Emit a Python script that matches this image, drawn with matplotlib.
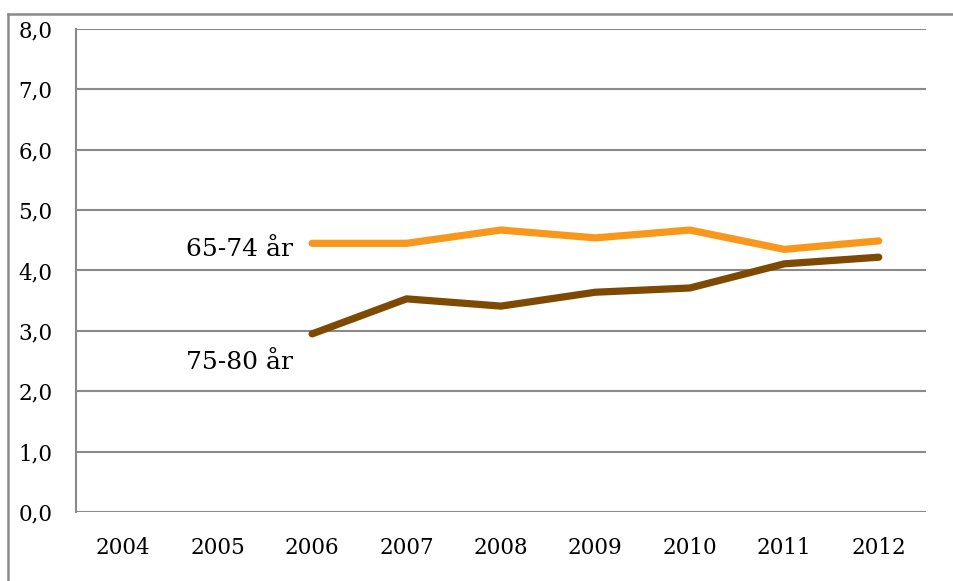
import matplotlib
matplotlib.use("Agg")
import matplotlib.pyplot as plt
from matplotlib.lines import Line2D

years = ["2004", "2005", "2006", "2007", "2008", "2009", "2010", "2011", "2012"]
# series start in 2006
age_65_74 = [None, None, 4.45, 4.45, 4.67, 4.54, 4.67, 4.35, 4.49]
age_75_80 = [None, None, 2.95, 3.53, 3.41, 3.64, 3.71, 4.11, 4.22]
yticks = [0, 1, 2, 3, 4, 5, 6, 7, 8]

grid_col = "#8a8a8a"
serif = "DejaVu Serif"

fig = plt.figure(figsize=(9.54, 5.81), dpi=100)
ax = fig.add_axes([0.0797, 0.1188, 0.8909, 0.8313])

x = list(range(len(years)))
xs = [i for i, v in enumerate(age_65_74) if v is not None]
ax.plot(xs, [age_65_74[i] for i in xs], color="#F7981D", lw=5.2,
        solid_capstyle="round", solid_joinstyle="round", zorder=3)
xs = [i for i, v in enumerate(age_75_80) if v is not None]
ax.plot(xs, [age_75_80[i] for i in xs], color="#7E4A03", lw=5.2,
        solid_capstyle="round", solid_joinstyle="round", zorder=3)

ax.set_xlim(-0.5, len(years) - 0.5)
ax.set_ylim(0, 8)
ax.set_yticks(yticks)
ax.set_yticklabels([f"{v},0" for v in yticks], fontfamily=serif, fontsize=15.5)
ax.set_xticks(x)
ax.set_xticklabels(years, fontfamily=serif, fontsize=15.5)
ax.tick_params(axis="both", length=0)
ax.tick_params(axis="x", pad=18)
ax.tick_params(axis="y", pad=17)

for v in yticks:
    ax.axhline(v, color=grid_col, lw=1.5, zorder=1)
for s in ["top", "right", "bottom"]:
    ax.spines[s].set_visible(False)
ax.spines["left"].set_color(grid_col)
ax.spines["left"].set_linewidth(1.5)

ax.text(1.8, 4.35, "65-74 år", fontfamily=serif, fontsize=18, ha="right", va="center")
ax.text(1.8, 2.48, "75-80 år", fontfamily=serif, fontsize=18, ha="right", va="center")

# outer frame (top and left edges)
fig.add_artist(Line2D([8.5 / 954, 1.0], [1 - 13.5 / 581] * 2, color=grid_col, lw=1.8,
                      transform=fig.transFigure))
fig.add_artist(Line2D([8.5 / 954] * 2, [0, 1 - 13.5 / 581], color=grid_col, lw=1.8,
                      transform=fig.transFigure))

fig.savefig("out.png", dpi=100)
